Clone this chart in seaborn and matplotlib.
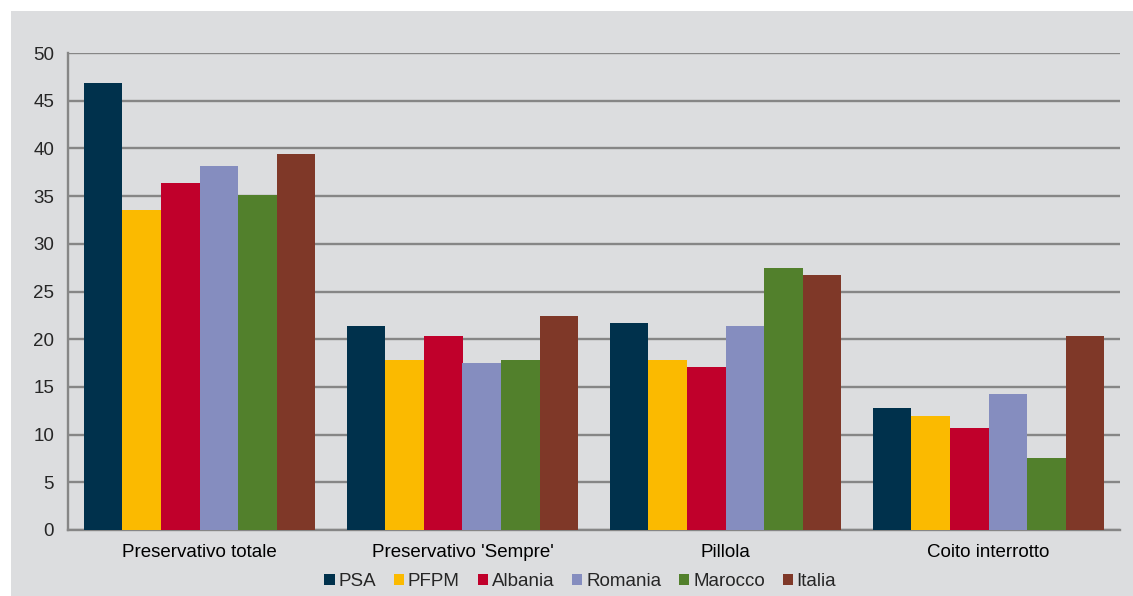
import pandas as pd
import matplotlib.pyplot as plt
import seaborn as sns
from matplotlib.patches import Rectangle

# values
categories = ["Preservativo totale", "Preservativo 'Sempre'", "Pillola", "Coito interrotto"]
groups = ["PSA", "PFPM", "Albania", "Romania", "Marocco", "Italia"]
psa = [46.9, 21.4, 21.7, 12.8]
pfpm = [33.5, 17.8, 17.8, 12.0]
albania = [36.4, 20.3, 17.1, 10.7]
romania = [38.2, 17.5, 21.4, 14.3]
marocco = [35.1, 17.8, 27.5, 7.5]
italia = [39.4, 22.4, 26.7, 20.3]
colors = ["#00314C", "#FBBA00", "#C0002B", "#858DBF", "#52802C", "#7F3828"]

series = [psa, pfpm, albania, romania, marocco, italia]
rows = []
for g, vals in zip(groups, series):
    for c, v in zip(categories, vals):
        rows.append({"cat": c, "group": g, "val": v})
df = pd.DataFrame(rows)

sns.set_style("white")
plt.rcParams["font.family"] = ["Liberation Sans", "DejaVu Sans"]

bg = "#DCDDDF"
grid_c = "#868686"
fs = 13.5

fig = plt.figure(figsize=(11.33, 5.96), dpi=100)
fig.patch.set_facecolor("white")
# grey panel behind the chart, leaving a white strip on the top and left
fig.patches.append(Rectangle((11 / 1133, 0), 1 - 11 / 1133, 1 - 11 / 596,
                             transform=fig.transFigure, facecolor=bg,
                             edgecolor="none", zorder=-10))
ax = fig.add_axes([68 / 1133, 1 - 530 / 596, (1120 - 68) / 1133, (530 - 53) / 596])
ax.set_facecolor(bg)
ax.set_zorder(5)

sns.barplot(data=df, x="cat", y="val", hue="group", order=categories,
            hue_order=groups, palette=colors, width=0.88, saturation=1,
            edgecolor="none", ax=ax, zorder=3)

ax.set_ylim(0, 50)
ax.set_xlim(-0.5, 3.5)
ax.set_yticks(range(0, 51, 5))
ax.yaxis.grid(True, color=grid_c, linewidth=1.7)
ax.set_axisbelow(True)
ax.set_xlabel("")
ax.set_ylabel("")
for s in ["top", "right"]:
    ax.spines[s].set_visible(False)
for s in ["left", "bottom"]:
    ax.spines[s].set_color(grid_c)
    ax.spines[s].set_linewidth(1.7)

ax.set_xticks([0, 1, 2, 3])
ax.set_xticklabels(categories)
ax.tick_params(axis="x", length=0, labelsize=fs, pad=10, colors="black")
ax.tick_params(axis="y", length=5, width=1.5, color=grid_c, labelsize=fs, pad=5)
# group separator ticks on the category axis
ax.set_xticks([-0.5, 0.5, 1.5, 2.5, 3.5], minor=True)
ax.tick_params(axis="x", which="minor", length=5, width=1.5, color=grid_c)

ax.legend(loc="upper center", bbox_to_anchor=(0.487, -0.075), ncol=6,
          frameon=False, fontsize=fs, handlelength=0.55, handleheight=0.55,
          handletextpad=0.2, columnspacing=0.95, borderaxespad=0)

plt.savefig("out.png", dpi=100)
plt.close()
